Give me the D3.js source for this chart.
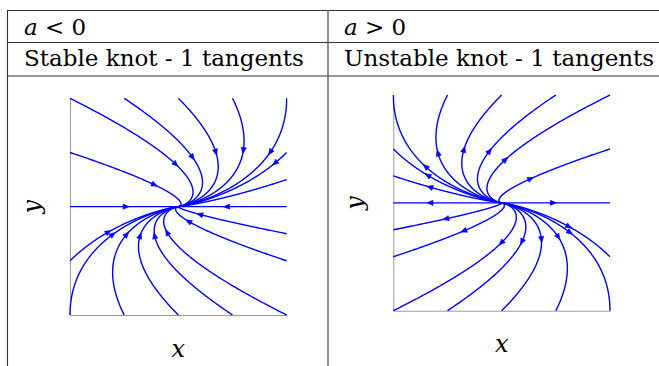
<!DOCTYPE html>
<html>
<head>
<meta charset="utf-8">
<script src="https://cdn.jsdelivr.net/npm/d3@7"></script>
<style>
  html, body { margin: 0; padding: 0; background: #fff; }
  svg { display: block; }
</style>
</head>
<body>
<svg id="chart" width="659" height="366"></svg>
<script>
// Phase portraits of the degenerate node  x' = a x + y,  y' = a y
// (a single eigen-direction: every trajectory is tangent to the x axis at 0).

const aValues = [-1, 1];
const headerRelation = [" < 0", " > 0"];
const subtitles = ["Stable knot - 1 tangents", "Unstable knot - 1 tangents"];
const axisDomain = [-1, 1];
const axisLabels = ["x", "y"];

// Boundary points of every drawn trajectory and the time (measured towards
// the origin) at which its arrowhead sits; null = no arrowhead.
const stableSeedX   = [-1, -0.5, 0, 0.5, 1, -1, 1, 1, -1, 1, 1, 1, -1, -1, -0.5, 0, 0.5, 1];
const stableSeedY   = [1, 1, 1, 1, 1, 0.5, 0.5, 0.25, 0, 0, -0.25, -0.5, -0.5, -1, -1, -1, -1, -1];
const stableArrowT  = [0.93, 0.78, 0.68, 0.65, 0.68, 0.9, 0.21, null, 0.72, 0.8, 1.23, 1.29, 0.75, 1.35, 1.35, 1.3, 1.3, 1.42];

const unstableSeedX  = [-1, -0.5, 0, 0.5, 1, -1, -1, -1, 1, 1, -1, -1, 1, -1, -0.5, 0, 0.5, 1];
const unstableSeedY  = [1, 1, 1, 1, 1, 0.5, 0.25, 0, 0, 0.5, -0.25, -0.5, -0.5, -1, -1, -1, -1, -1];
const unstableArrowT = [1.1, 0.78, 0.71, 0.74, 0.92, 0.68, 0.545, 0.42, 0.75, 0.81, 0.53, 0.66, 0.83, 1.0, 1.03, 1.09, 1.16, 1.3];

const seedsX = [stableSeedX, unstableSeedX];
const seedsY = [stableSeedY, unstableSeedY];
const arrowT = [stableArrowT, unstableArrowT];

// ---- layout -------------------------------------------------------------
const W = 659, H = 366;
const ruleColor = "#333";
const textFont = '"DejaVu Serif"';
const boxes = [
  { left: 70,    right: 286.7, top: 98.3, bottom: 315 },
  { left: 393.3, right: 610,   top: 95,   bottom: 310.7 }
];
const cellX = [24, 344];
const svg = d3.select("#chart").style("font-family", textFont);

// table rules
const hRules = [10.5, 42.5, 76];
svg.selectAll("line.h").data(hRules).join("line")
  .attr("class", "h")
  .attr("x1", 7).attr("x2", W).attr("y1", d => d).attr("y2", d => d)
  .attr("stroke", ruleColor).attr("stroke-width", 1.1);
svg.append("line").attr("x1", 7.5).attr("x2", 7.5).attr("y1", 10).attr("y2", H)
  .attr("stroke", ruleColor).attr("stroke-width", 1.1);
svg.append("line").attr("x1", 328).attr("x2", 328).attr("y1", 10).attr("y2", H)
  .attr("stroke", "#555").attr("stroke-width", 1.3);

// header cells
[0, 1].forEach(i => {
  const t = svg.append("text").attr("x", cellX[i]).attr("y", 35)
    .style("font-family", textFont).style("font-size", "23px").attr("fill", "#000");
  t.append("tspan").style("font-style", "italic").text("a");
  t.append("tspan").text(headerRelation[i]);
  svg.append("text").attr("x", cellX[i]).attr("y", 66)
    .style("font-family", textFont).style("font-size", "23px").attr("fill", "#000")
    .text(subtitles[i]);
});

// ---- phase portraits ------------------------------------------------------
function trajectory(a, x0, y0, tau) {
  const e = Math.exp(-tau);
  return [(x0 - a * y0 * tau) * e, y0 * e];
}

const tauSamples = d3.range(0, 25, 0.01);

boxes.forEach((b, p) => {
  const a = aValues[p];
  const xs = d3.scaleLinear().domain(axisDomain).range([b.left, b.right]);
  const ys = d3.scaleLinear().domain(axisDomain).range([b.bottom, b.top]);
  const g = svg.append("g");

  const clipId = "clip" + p;
  svg.append("clipPath").attr("id", clipId).append("rect")
    .attr("x", b.left - 1).attr("y", b.top - 1)
    .attr("width", b.right - b.left + 2).attr("height", b.bottom - b.top + 2);

  // axes: left and bottom frame lines only, no ticks
  g.append("g").attr("transform", `translate(0,${b.bottom})`)
    .call(d3.axisBottom(xs).tickValues([]).tickSizeOuter(0))
    .call(s => s.select(".domain").attr("stroke", "#9a9a9a").attr("stroke-width", 1));
  g.append("g").attr("transform", `translate(${b.left},0)`)
    .call(d3.axisLeft(ys).tickValues([]).tickSizeOuter(0))
    .call(s => s.select(".domain").attr("stroke", "#9a9a9a").attr("stroke-width", 1));

  const line = d3.line().x(d => xs(d[0])).y(d => ys(d[1]));
  const curves = seedsX[p].map((sx, k) => ({ x0: sx, y0: seedsY[p][k], ta: arrowT[p][k] }));

  const flows = g.append("g").attr("clip-path", `url(#${clipId})`);
  flows.selectAll("path.flow").data(curves).join("path")
    .attr("class", "flow")
    .attr("d", c => line(tauSamples.map(t => trajectory(a, c.x0, c.y0, t))))
    .attr("fill", "none").attr("stroke", "#0000ff").attr("stroke-width", 1.4)
    .attr("stroke-linejoin", "round");

  // arrowheads pointing along the flow
  const heads = curves.filter(c => c.ta !== null).map(c => {
    const eps = 0.01;
    const p0 = trajectory(a, c.x0, c.y0, c.ta);
    const pa = trajectory(a, c.x0, c.y0, c.ta - eps);
    const pb = trajectory(a, c.x0, c.y0, c.ta + eps);
    let dx = xs(pb[0]) - xs(pa[0]), dy = ys(pb[1]) - ys(pa[1]);
    if (a > 0) { dx = -dx; dy = -dy; }
    const len = Math.hypot(dx, dy) || 1;
    const ux = dx / len, uy = dy / len;
    const cx = xs(p0[0]), cy = ys(p0[1]);
    const tip = [cx + ux * 3.5, cy + uy * 3.5];
    const bc = [cx - ux * 2.5, cy - uy * 2.5];
    return [tip, [bc[0] - uy * 2.6, bc[1] + ux * 2.6], [bc[0] + uy * 2.6, bc[1] - ux * 2.6]];
  });
  g.selectAll("path.head").data(heads).join("path")
    .attr("class", "head")
    .attr("d", d => "M" + d.map(q => q.join(",")).join("L") + "Z")
    .attr("fill", "#0000ff").attr("stroke", "#0000ff").attr("stroke-width", 0.6);

  // axis labels
  const midX = (b.left + b.right) / 2, midY = (b.top + b.bottom) / 2;
  g.append("text").attr("x", midX).attr("y", b.bottom + 42 - p * 1)
    .attr("text-anchor", "middle").style("font-family", textFont)
    .style("font-style", "italic").style("font-size", "24px").text(axisLabels[0]);
  g.append("text")
    .attr("transform", `translate(${b.left - 30},${midY}) rotate(-90)`)
    .attr("text-anchor", "middle").style("font-family", textFont)
    .style("font-style", "italic").style("font-size", "24px").text(axisLabels[1]);
});
</script>
</body>
</html>
